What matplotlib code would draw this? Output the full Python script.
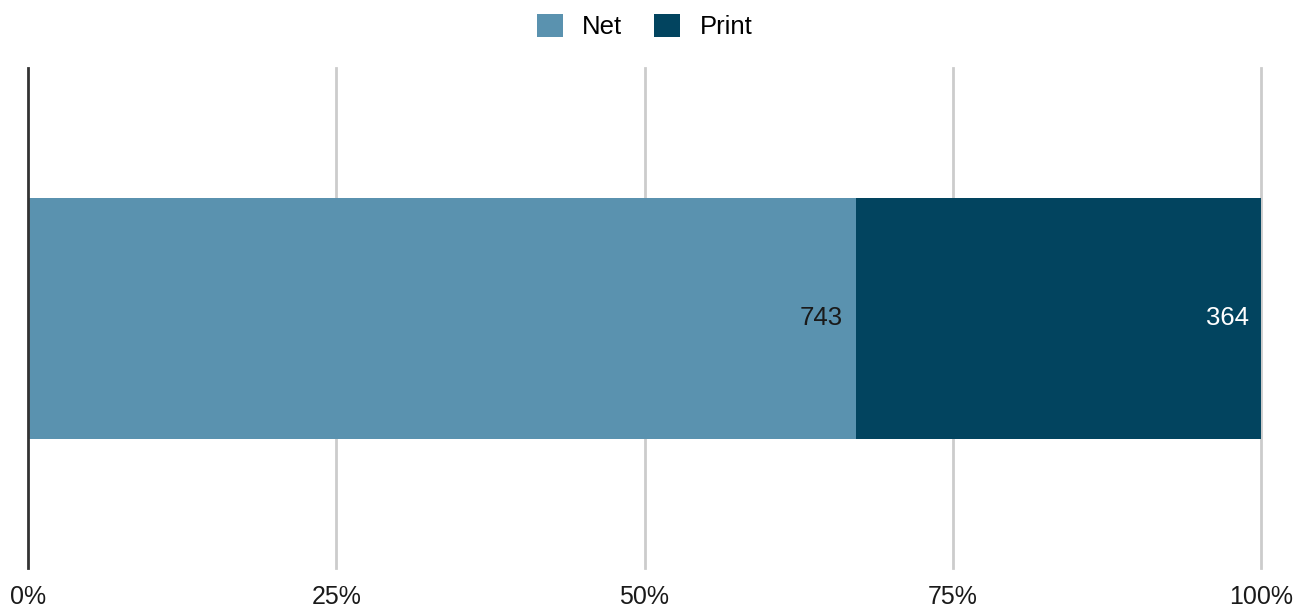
import matplotlib.pyplot as plt
from matplotlib.patches import Patch

plt.rcParams['font.family'] = ['Liberation Sans', 'DejaVu Sans']

# Net vs print counts, drawn as a single 100% stacked bar
series = ['Net', 'Print']
counts = [743, 364]
colors = ['#5A92AF', '#02445F']
label_colors = ['#1a1a1a', '#ffffff']
ticks = [0, 25, 50, 75, 100]
tick_labels = ['0%', '25%', '50%', '75%', '100%']

total = sum(counts)
shares = [c / total * 100 for c in counts]

fig = plt.figure(figsize=(13.05, 6.08), dpi=100)
ax = fig.add_axes([28 / 1305, 40 / 608, 1233 / 1305, 500 / 608])

left = 0
for name, share, count, col, lc in zip(series, shares, counts, colors, label_colors):
    ax.barh(0, share, left=left, height=0.482, color=col, zorder=3)
    ax.text(left + share - 1.0, 0, str(count), ha='right', va='center',
            fontsize=18.5, color=lc, zorder=4)
    left += share

ax.set_xlim(0, 100)
ax.set_ylim(-0.5, 0.5)
ax.set_xticks(ticks)
ax.set_xticklabels(tick_labels, fontsize=18, color='#1a1a1a')
ax.set_yticks([])
ax.tick_params(axis='x', length=0, pad=12)
for t in ticks[1:]:
    ax.axvline(t, color='#cccccc', linewidth=2, zorder=0, clip_on=False)
ax.axvline(0, color='#333333', linewidth=2, zorder=5, clip_on=False)
for s in ax.spines.values():
    s.set_visible(False)

handles = [Patch(facecolor=c, label=n) for n, c in zip(series, colors)]
fig.legend(handles=handles, loc='upper center', bbox_to_anchor=(0.494, 1.015),
           ncol=2, frameon=False, fontsize=18.5, handlelength=1.0,
           handleheight=1.0, columnspacing=1.25, handletextpad=0.75)

fig.savefig('out.png', dpi=100)
